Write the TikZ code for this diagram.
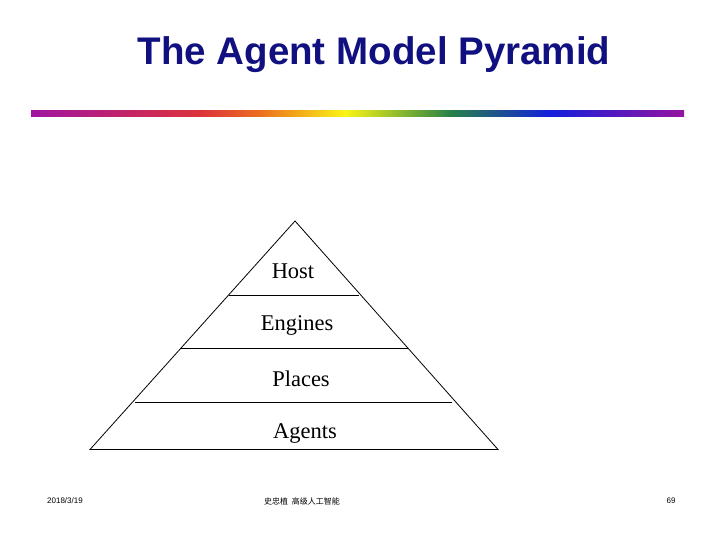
\documentclass[tikz,border=0pt]{standalone}
\usepackage{fontspec}
\setmainfont{Liberation Serif}
\newfontfamily\arialf{Liberation Sans}
\newfontfamily\cjk{Noto Sans CJK SC}
\definecolor{navy}{RGB}{16,16,128}
\definecolor{c1}{RGB}{160,20,160}
\definecolor{c2}{RGB}{220,50,60}
\definecolor{c3}{RGB}{235,110,30}
\definecolor{c4}{RGB}{250,245,20}
\definecolor{c5}{RGB}{40,130,70}
\definecolor{c6}{RGB}{20,30,220}
\definecolor{c7}{RGB}{150,20,160}
\begin{document}
\begin{tikzpicture}[x=1pt,y=-1pt,
  lvl/.style={font=\fontsize{22.5}{26}\selectfont},
  foot/.style={font=\arialf\fontsize{8}{10}\selectfont},
  edge/.style={line width=0.8pt}]
\useasboundingbox (0,0) rectangle (720,540);
\node[font=\arialf\bfseries\fontsize{38.5}{44}\selectfont,text=navy] (title) at (374,55) {The Agent Model Pyramid};
\foreach \a/\b/\ca/\cb in {31/200/c1/c2,200/260/c2/c3,260/345/c3/c4,345/450/c4/c5,450/550/c5/c6,550/684/c6/c7}{
  \fill[left color=\ca,right color=\cb] (\a,111) rectangle (\b,116.5);
}
\coordinate (apex) at (295,221);
\coordinate (bl) at (90,449.5);
\coordinate (br) at (498,449.5);
\draw[edge] (apex) -- (bl) -- (br) -- cycle;
\coordinate (l1a) at (229,295); \coordinate (l1b) at (359,295);
\coordinate (l2a) at (180,348); \coordinate (l2b) at (408,348);
\coordinate (l3a) at (135,402); \coordinate (l3b) at (452,402);
\draw[edge] (l1a) -- (l1b); \draw[edge] (l2a) -- (l2b); \draw[edge] (l3a) -- (l3b);
\node[lvl] (host) at (293,271) {Host};
\node[lvl] (eng) at (297,325) {Engines};
\node[lvl] (pl) at (301,379) {Places};
\node[lvl] (ag) at (305,433) {Agents};
\node[foot] (date) at (65,501) {2018/3/19};
\node[font=\cjk\fontsize{8}{10}\selectfont] (auth) at (302,501) {史忠植\ \ 高级人工智能};
\node[foot] (pg) at (671,501) {69};
\end{tikzpicture}
\end{document}
